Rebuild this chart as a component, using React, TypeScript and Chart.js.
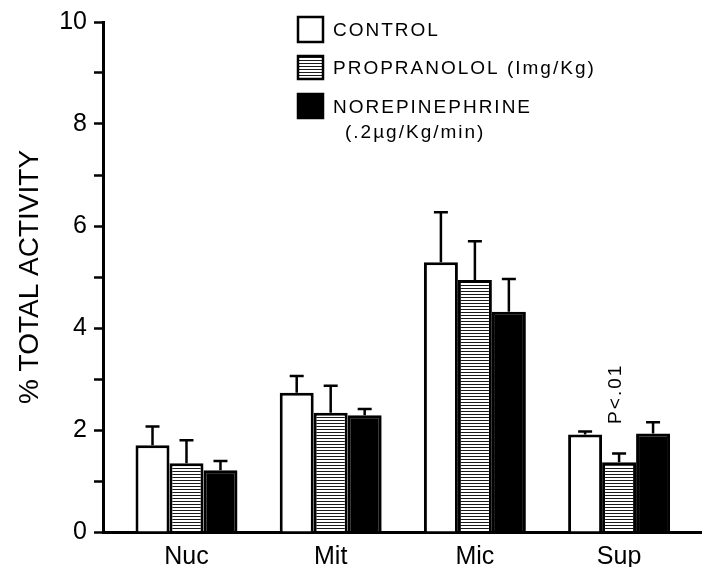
import React, { useEffect, useRef } from "react";
import { Chart, registerables } from "chart.js";

Chart.register(...registerables);

const categories = ["Nuc", "Mit", "Mic", "Sup"];
const seriesLabels = ["CONTROL", "PROPRANOLOL (Img/Kg)", "NOREPINEPHRINE"];
const seriesSubLabels = ["", "", "(.2µg/Kg/min)"];
const controlValues = [1.7, 2.73, 5.29, 1.91];
const controlErrors = [0.37, 0.33, 0.98, 0.06];
const propranololValues = [1.35, 2.34, 4.94, 1.37];
const propranololErrors = [0.45, 0.53, 0.76, 0.17];
const norepinephrineValues = [1.21, 2.29, 4.32, 1.93];
const norepinephrineErrors = [0.18, 0.12, 0.64, 0.22];
const yTickValues = [0, 1, 2, 3, 4, 5, 6, 7, 8, 9, 10];
const annotationText = "P<.01";
const annotationCategory = 3;
const annotationSeries = 1;
const annotationValue = 2.71;

const FONT = "'Liberation Sans', Arial, sans-serif";

export default function App() {
  const ref = useRef<HTMLCanvasElement | null>(null);

  useEffect(() => {
    const canvas = ref.current;
    if (!canvas) return;
    const ctx0 = canvas.getContext("2d")!;

    const pc = document.createElement("canvas");
    pc.width = 6;
    pc.height = 3;
    const p = pc.getContext("2d")!;
    p.fillStyle = "#fff";
    p.fillRect(0, 0, 6, 3);
    p.fillStyle = "#1a1a1a";
    p.fillRect(0, 0, 6, 1);
    const pattern = ctx0.createPattern(pc, "repeat")!;

    const fills: any[] = ["#ffffff", pattern, "#000000"];
    const valueSets = [controlValues, propranololValues, norepinephrineValues];
    const errorSets = [controlErrors, propranololErrors, norepinephrineErrors];

    const errorBarPlugin = {
      id: "errorBars",
      afterDatasetsDraw(chart: any) {
        const ctx = chart.ctx;
        const y = chart.scales.y;
        chart.data.datasets.forEach((ds: any, di: number) => {
          const meta = chart.getDatasetMeta(di);
          meta.data.forEach((bar: any, i: number) => {
            const v = valueSets[di][i];
            const e = errorSets[di][i];
            const yTop = y.getPixelForValue(v);
            const yErr = y.getPixelForValue(v + e);
            ctx.save();
            ctx.strokeStyle = "#000";
            ctx.lineWidth = 2.5;
            ctx.beginPath();
            ctx.moveTo(bar.x, yTop);
            ctx.lineTo(bar.x, yErr);
            ctx.moveTo(bar.x - 7, yErr);
            ctx.lineTo(bar.x + 7, yErr);
            ctx.stroke();
            ctx.restore();
          });
        });
        const meta = chart.getDatasetMeta(annotationSeries);
        const el = meta.data[annotationCategory];
        if (el) {
          ctx.save();
          ctx.translate(el.x - 3, y.getPixelForValue(annotationValue));
          ctx.rotate(-Math.PI / 2);
          ctx.fillStyle = "#000";
          ctx.font = `19px ${FONT}`;
          (ctx as any).letterSpacing = "2px";
          ctx.textAlign = "center";
          ctx.textBaseline = "middle";
          ctx.fillText(annotationText, 0, 0);
          ctx.restore();
        }
      },
    };

    const legendPlugin = {
      id: "customLegend",
      afterDraw(chart: any) {
        const ctx = chart.ctx;
        const boxX = 298;
        const boxW = 25;
        const rows = [
          { y: 17, h: 25, ty: 31 },
          { y: 56, h: 23, ty: 69 },
          { y: 94, h: 24, ty: 108 },
        ];
        seriesLabels.forEach((label, i) => {
          const r = rows[i];
          ctx.save();
          ctx.fillStyle = fills[i];
          ctx.fillRect(boxX, r.y, boxW, r.h);
          ctx.strokeStyle = "#000";
          ctx.lineWidth = 2.5;
          ctx.strokeRect(boxX, r.y, boxW, r.h);
          ctx.fillStyle = "#000";
          ctx.font = `19px ${FONT}`;
          (ctx as any).letterSpacing = "2px";
          ctx.textAlign = "left";
          ctx.textBaseline = "middle";
          ctx.fillText(label, 333, r.ty);
          if (seriesSubLabels[i]) {
            ctx.fillText(seriesSubLabels[i], 345, r.ty + 25);
          }
          ctx.restore();
        });
      },
    };

    const chart = new Chart(canvas, {
      type: "bar",
      data: {
        datasets: seriesLabels.map((label, di) => ({
          label,
          data: valueSets[di].map((v, i) => ({ x: i, y: v })),
          backgroundColor: fills[di],
          borderColor: "#000",
          borderWidth: 3,
          borderSkipped: "start",
          categoryPercentage: 0.707,
          barPercentage: 1.0,
        })),
      },
      options: {
        animation: false,
        responsive: false,
        devicePixelRatio: 1,
        layout: { padding: { top: 20, right: 0, bottom: 0, left: 0 } },
        plugins: {
          legend: { display: false },
          tooltip: { enabled: false },
        },
        scales: {
          x: {
            type: "linear",
            min: -0.579,
            max: 3.575,
            offset: false,
            afterBuildTicks: (scale: any) => {
              scale.ticks = categories.map((_, i) => ({ value: i }));
            },
            afterFit: (scale: any) => {
              scale.height = 35;
            },
            ticks: {
              callback: (v: any) => categories[v] ?? "",
              autoSkip: false,
              maxRotation: 0,
              color: "#000",
              padding: 2,
              font: { family: FONT, size: 25 },
            },
            grid: { display: false },
            border: { display: true, color: "#000", width: 3 },
          },
          y: {
            min: 0,
            max: 10,
            afterBuildTicks: (scale: any) => {
              scale.ticks = yTickValues.map((v) => ({ value: v }));
            },
            afterFit: (scale: any) => {
              scale.width = 103;
            },
            ticks: {
              callback: (v: any) => (v % 2 === 0 ? String(v) : ""),
              color: "#000",
              padding: 7,
              font: { family: FONT, size: 25 },
            },
            grid: {
              display: true,
              drawOnChartArea: false,
              drawTicks: true,
              tickLength: 9,
              tickWidth: 2.5,
              color: "#000",
            },
            border: { display: true, color: "#000", width: 3 },
            title: {
              display: true,
              text: "% TOTAL ACTIVITY",
              color: "#000",
              font: { family: FONT, size: 28 },
              padding: { top: 13, bottom: 0 },
            },
          },
        },
      },
      plugins: [errorBarPlugin, legendPlugin],
    } as any);

    return () => chart.destroy();
  }, []);

  return (
    <div style={{ position: "absolute", left: 0, top: 0, width: 702, height: 567, background: "#fff" }}>
      <canvas ref={ref} width={702} height={567} style={{ width: 702, height: 567, display: "block" }} />
    </div>
  );
}
